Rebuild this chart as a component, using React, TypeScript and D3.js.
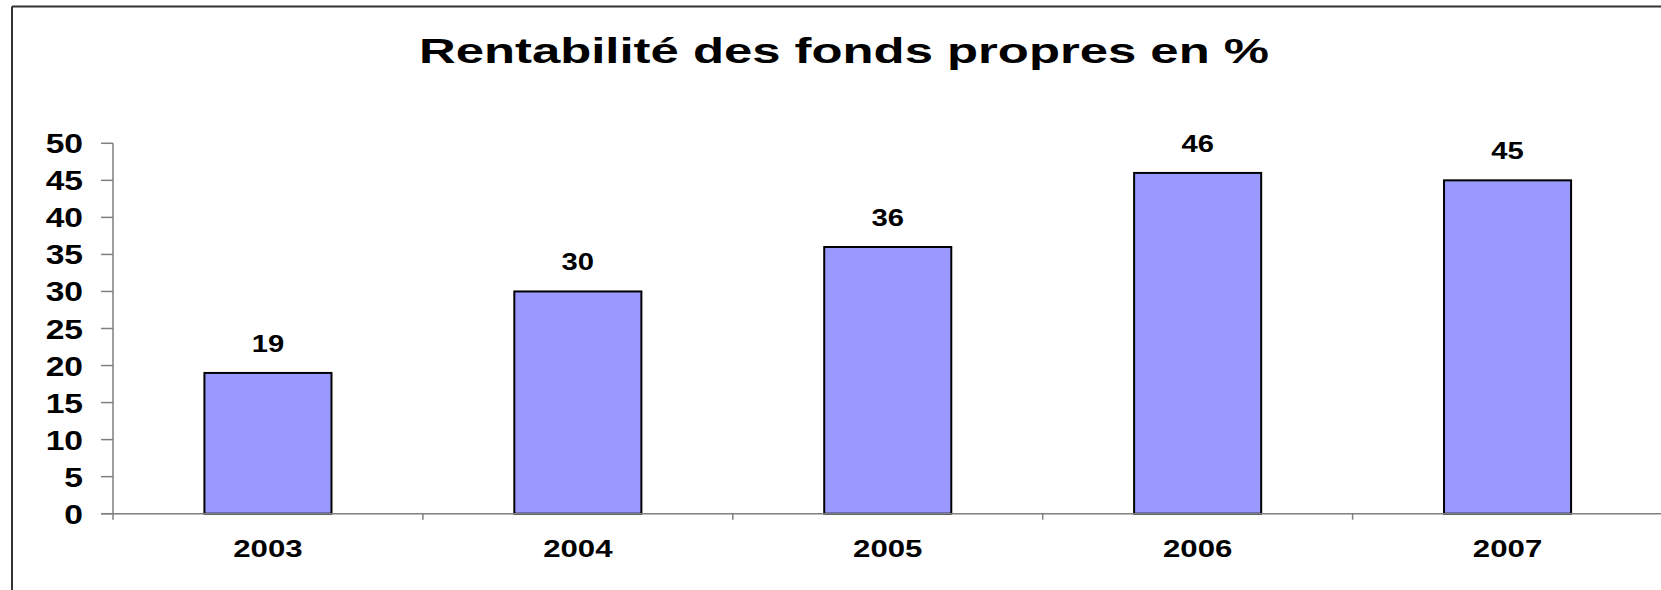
import React from "react";
import * as d3 from "d3";

const years = ["2003", "2004", "2005", "2006", "2007"];
const values = [19, 30, 36, 46, 45];
const yTicks = [0, 5, 10, 15, 20, 25, 30, 35, 40, 45, 50];
const title = "Rentabilité des fonds propres en %";

const W = 1661;
const H = 590;
const plotLeft = 113;
const plotRight = 1662.5;
const plotTop = 143.3;
const plotBottom = 513.7;

const FONT = "'Liberation Sans', Arial, Helvetica, sans-serif";

function SText({ x, y, sx, size, anchor, children, textLength }: any) {
  return (
    <text
      transform={`translate(${x},${y}) scale(${sx},1)`}
      fontFamily={FONT}
      fontWeight="bold"
      fontSize={size}
      textAnchor={anchor}
      fill="#000"
      textLength={textLength ? textLength / sx : undefined}
      lengthAdjust={textLength ? "spacingAndGlyphs" : undefined}
    >
      {children}
    </text>
  );
}

export default function App() {
  const x = d3.scaleBand<string>().domain(years).range([plotLeft, plotRight]).padding(0);
  const y = d3.scaleLinear().domain([0, 50]).range([plotBottom, plotTop]);
  const bw = x.bandwidth();
  const barW = bw * 0.41;
  const axisColor = "#7f7f7f";

  return (
    <svg
      width={W}
      height={H}
      style={{ position: "absolute", left: 0, top: 0, display: "block", background: "#fff" }}
    >
      {/* outer frame */}
      <line x1={12} y1={6.5} x2={W} y2={6.5} stroke="#333" strokeWidth={2} />
      <line x1={12} y1={6.5} x2={12} y2={H} stroke="#333" strokeWidth={2} />

      {/* title */}
      <SText x={844} y={63.3} sx={1} size={35} anchor="middle" textLength={850}>
        {title}
      </SText>

      {/* y axis */}
      <line x1={plotLeft} y1={plotTop} x2={plotLeft} y2={plotBottom + 6} stroke={axisColor} strokeWidth={1.5} />
      {yTicks.map((t) => (
        <g key={t}>
          <line x1={101} y1={y(t)} x2={plotLeft} y2={y(t)} stroke={axisColor} strokeWidth={1.5} />
          <SText x={83} y={y(t) + 10} sx={1.2} size={28} anchor="end">
            {t}
          </SText>
        </g>
      ))}

      {/* bars */}
      {years.map((yr, i) => {
        const cx = (x(yr) as number) + bw / 2;
        return (
          <g key={yr}>
            <rect
              x={cx - barW / 2}
              y={y(values[i])}
              width={barW}
              height={plotBottom - y(values[i])}
              fill="#9999FF"
              stroke="#000"
              strokeWidth={2}
            />
            <SText x={cx} y={y(values[i]) - 21} sx={1.27} size={23} anchor="middle">
              {values[i]}
            </SText>
            <SText x={cx} y={556.7} sx={1.3} size={24} anchor="middle">
              {yr}
            </SText>
          </g>
        );
      })}

      {/* x axis */}
      <line x1={101} y1={plotBottom} x2={W} y2={plotBottom} stroke={axisColor} strokeWidth={1.5} />
      {years.map((yr) => (
        <line
          key={yr}
          x1={(x(yr) as number) + bw}
          y1={plotBottom}
          x2={(x(yr) as number) + bw}
          y2={plotBottom + 6}
          stroke={axisColor}
          strokeWidth={1.5}
        />
      ))}
    </svg>
  );
}
